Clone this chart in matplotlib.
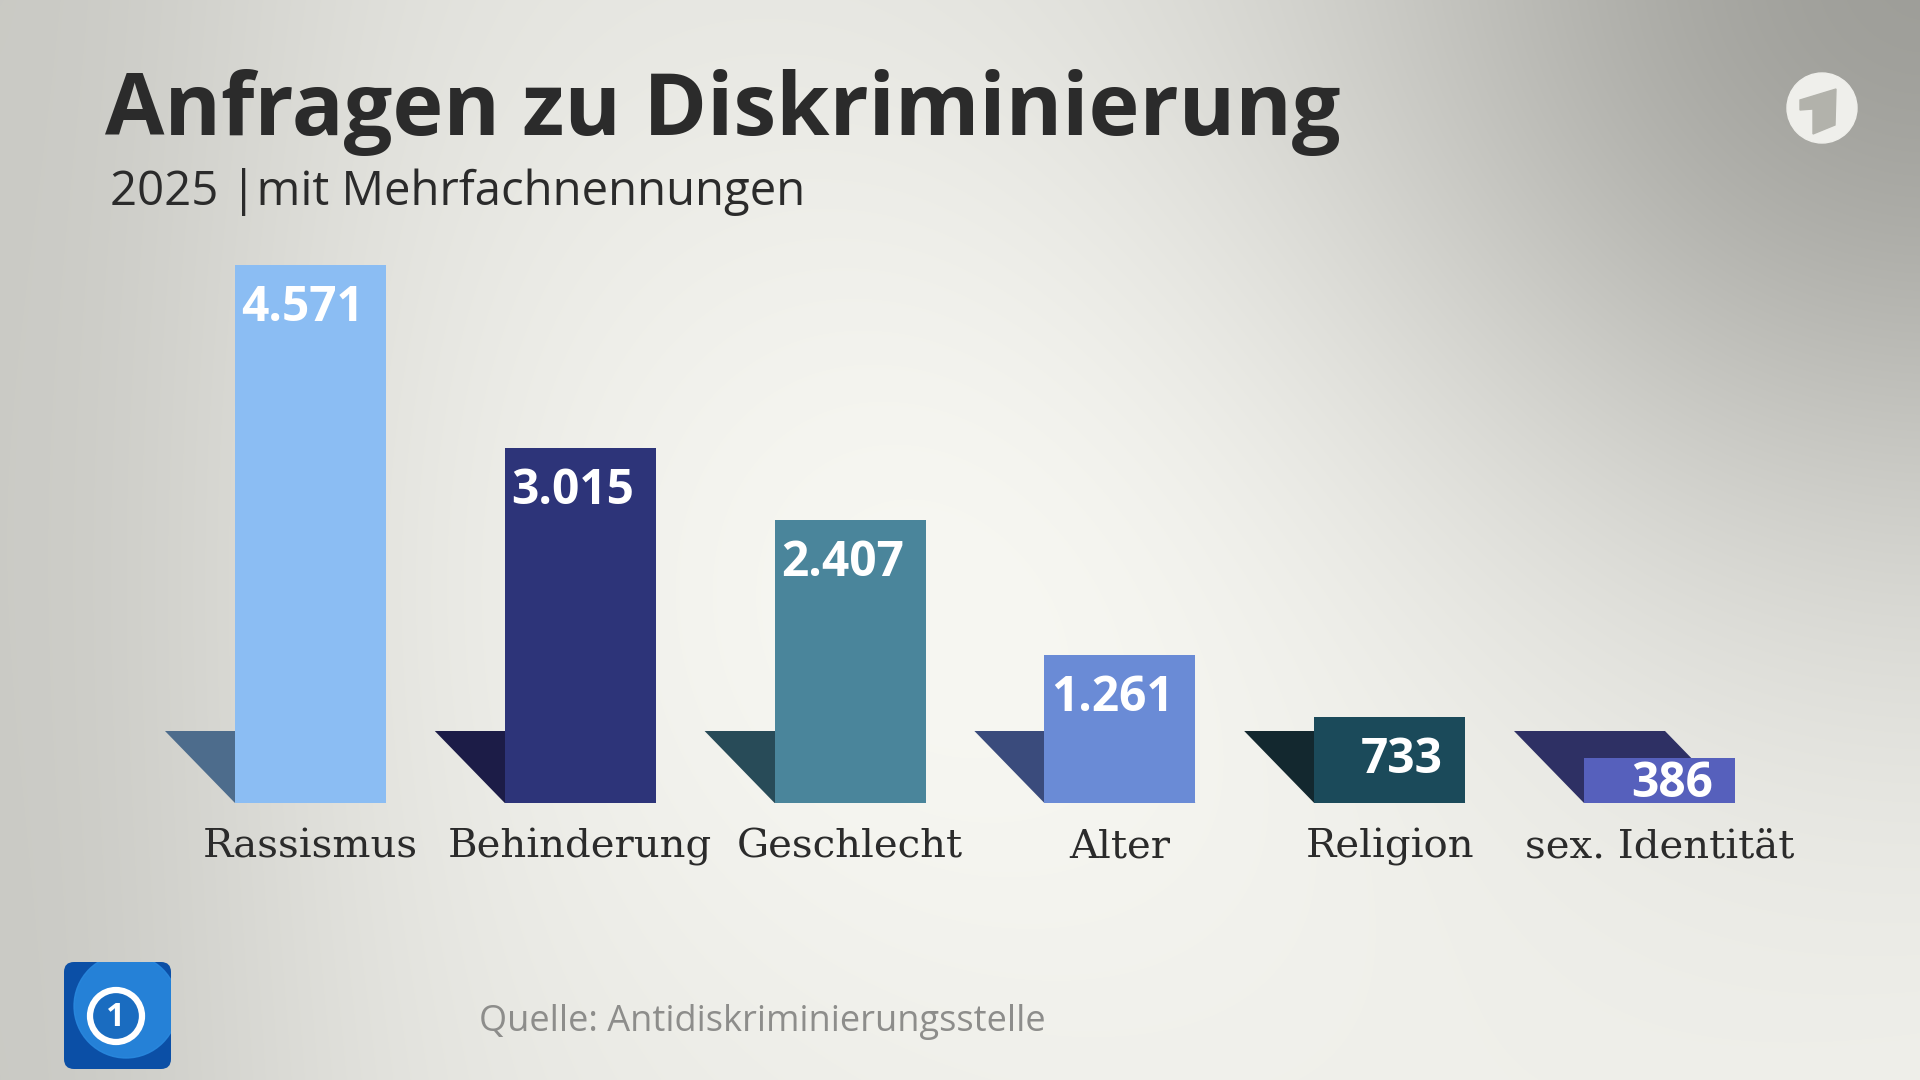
import numpy as np
import matplotlib
matplotlib.use('Agg')
import matplotlib.pyplot as plt
from matplotlib.patches import Polygon, Circle, FancyBboxPatch

# data
categories = ['Rassismus', 'Behinderung', 'Geschlecht', 'Alter', 'Religion', 'sex. Identität']
values = [4571, 3015, 2407, 1261, 733, 386]
value_labels = ['4.571', '3.015', '2.407', '1.261', '733', '386']
bar_colors = ['#8bbdf3', '#2d3479', '#4a859b', '#6a8bd6', '#1b4a5a', '#5660bc']
shadow_colors = ['#4d6c8c', '#1c1c47', '#284b58', '#3a4b7c', '#13282f', '#2e3064']

title = 'Anfragen zu Diskriminierung'
subtitle = '2025 |mit Mehrfachnennungen'
source = 'Quelle: Antidiskriminierungsstelle'

W, H = 1920, 1080
fig = plt.figure(figsize=(W / 100, H / 100), dpi=100)

# background
ax_bg = fig.add_axes([0, 0, 1, 1])
yy, xx = np.mgrid[0:H, 0:W]
u = xx / W
v = yy / H
val = 0.89
val = val + 0.07 * np.exp(-((u - 0.5) ** 2 / 0.10 + (v - 0.5) ** 2 / 0.25))
val = val + 0.05 * u * v
val = val - 0.27 * np.exp(-((1 - u) ** 2 / 0.09 + v ** 2 / 0.25))
val = val - 0.10 * np.exp(-u ** 2 / 0.03)
val = np.clip(val, 0, 1)
bg = np.dstack([val, val, val - 0.02])
ax_bg.imshow(np.clip(bg, 0, 1), extent=[0, W, H, 0], aspect='auto')
ax_bg.set_xlim(0, W)
ax_bg.set_ylim(H, 0)
ax_bg.axis('off')

# titles
ax_bg.text(105, 135, title, fontsize=62, fontweight='bold', family='Open Sans',
           color='#2b2b2b', va='baseline', ha='left')
ax_bg.text(110, 205, subtitle, fontsize=34, family='Open Sans',
           color='#2b2b2b', va='baseline', ha='left')
ax_bg.text(479, 1031, source, fontsize=26, family='Open Sans',
           color='#8d8d8b', va='baseline', ha='left')

# ARD logo top right
ax_bg.add_patch(Circle((1822, 108), 35, color='#efefeb', zorder=3))
one = np.array([[-22, -8], [14, -19], [13, 17], [-9, 26], [-9, 1], [-22, 2]]) + [1822, 108]
ax_bg.add_patch(Polygon(one, closed=True, color='#b2b2ab', zorder=4))

# tagesschau logo bottom left
box = FancyBboxPatch((64, 962), 107, 107, boxstyle='round,pad=0,rounding_size=10',
                     fc='#0b4fa6', ec='none', zorder=3)
ax_bg.add_patch(box)
globe = Circle((126, 1006), 52, color='#2a8ae0', alpha=0.85, zorder=4)
ax_bg.add_patch(globe)
globe.set_clip_path(box)
ax_bg.add_patch(Circle((116, 1016), 26, fc='#1a6cc0', ec='white', lw=4.5, zorder=5))
ax_bg.text(116, 1017, '1', fontsize=24, fontweight='bold', color='white', family='Open Sans',
           ha='center', va='center', zorder=6)

# bars
baseline_px = 277
px_per_unit = 538 / 4571
ymax = 5000
ax = fig.add_axes([0, baseline_px / H, 1, ymax * px_per_unit / H])
ax.patch.set_alpha(0)
x = np.arange(len(categories))
spacing = 269.8
ax.set_xlim(-310.5 / spacing, (W - 310.5) / spacing)
ax.set_ylim(0, ymax)
ax.axis('off')

bw = 151 / spacing
dx = 70 / spacing
sh = 72 / px_per_unit
for i in x:
    pts = [(i - bw / 2 - dx, sh), (i + bw / 2 - dx, sh), (i + bw / 2, 0), (i - bw / 2, 0)]
    ax.add_patch(Polygon(pts, closed=True, color=shadow_colors[i], zorder=1, lw=0))

ax.bar(x, values, width=bw, color=bar_colors, zorder=2, linewidth=0)

for i in x:
    hpx = values[i] * px_per_unit
    if hpx > 80:
        off = -39 - 17
        ypos = values[i]
    else:
        off = -17
        ypos = values[i] / 2
    ax.annotate(value_labels[i], xy=(i + bw / 2, ypos), xytext=(-22 * 0.72, off * 0.72),
                textcoords='offset points', ha='right', va='baseline', color='white',
                fontsize=34.5, fontweight='bold', family='Open Sans', zorder=3)
    ax.annotate(categories[i], xy=(i, 0), xytext=(0, -55 * 0.72), textcoords='offset points',
                ha='center', va='baseline', color='#2b2b2b', fontsize=29,
                family='DejaVu Serif', annotation_clip=False)

fig.savefig('out.png', dpi=100)
